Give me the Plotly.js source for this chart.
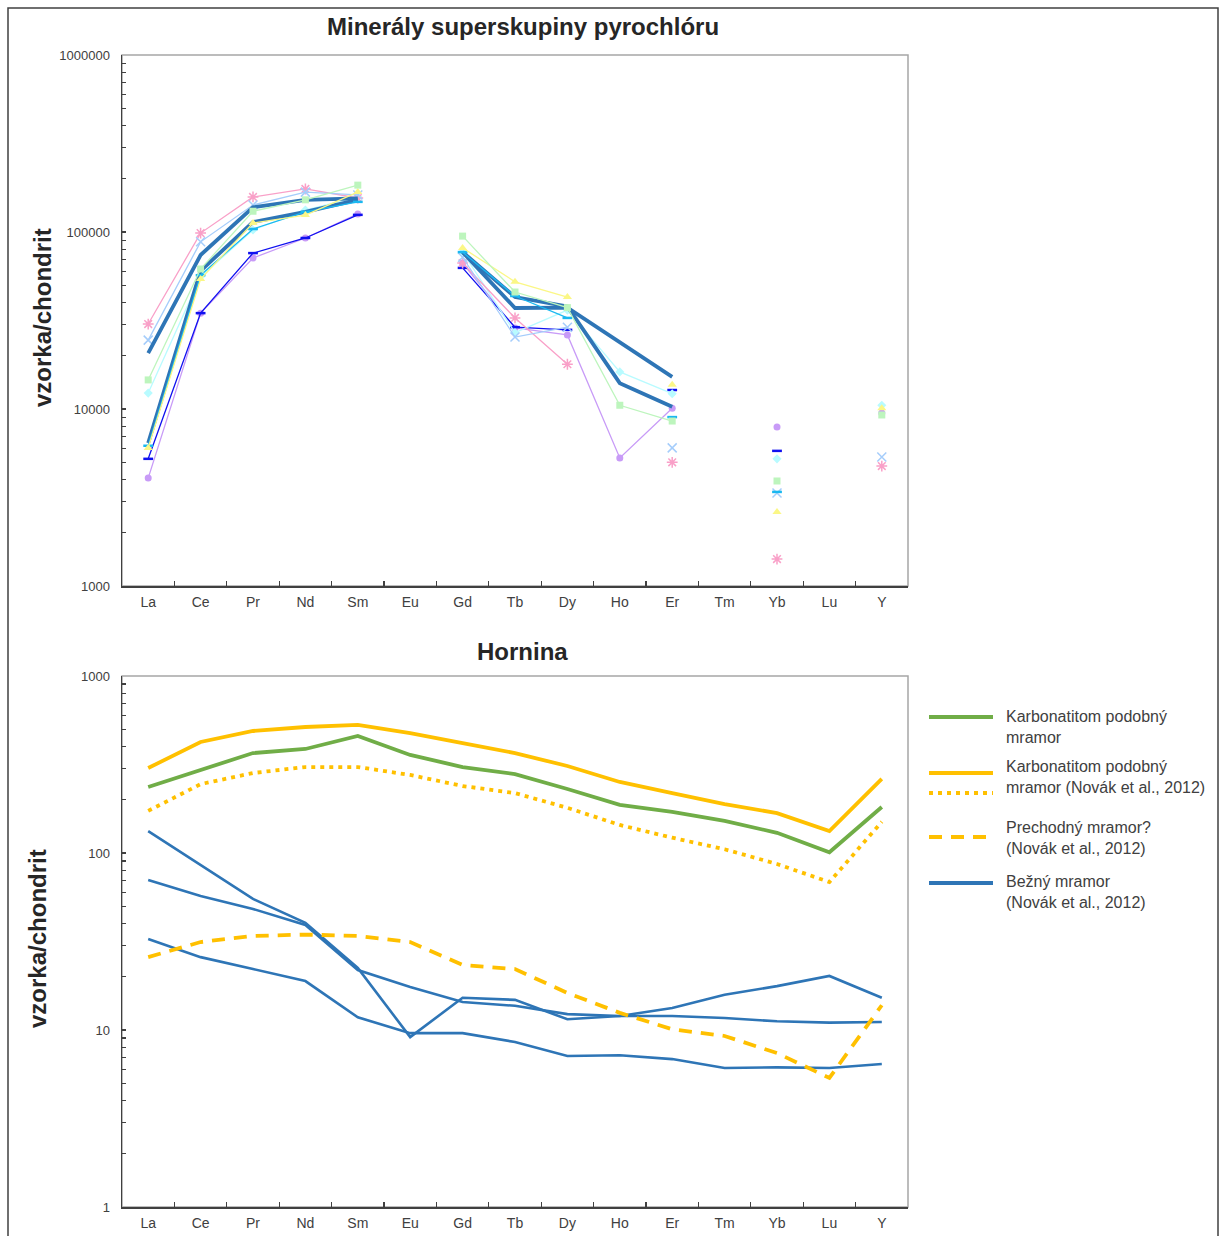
<!DOCTYPE html>
<html>
<head>
<meta charset="utf-8">
<script src="https://cdn.plot.ly/plotly-3.0.1.min.js"></script>
<style>
  html, body { margin: 0; padding: 0; background: #ffffff; }
  #chart { width: 1224px; height: 1236px; }
</style>
</head>
<body>
<div id="chart"></div>
<script>
// ---------- Data ----------
const categories = ["La","Ce","Pr","Nd","Sm","Eu","Gd","Tb","Dy","Ho","Er","Tm","Yb","Lu","Y"];

// Top chart: pyrochlore supergroup minerals (sample / chondrite)
const pinkStar   = [30200, 98600, 157800, 175000, 155600, null, 66800, 32700, 17900, null, 5000, null, 1420, null, 4760];
const lightBlueX = [24500, 88000, 142000, 168000, 162000, null, 72000, 25500, 29000, null, 6030, null, 3350, null, 5360];
const yellowTri  = [6030, 54200, 112500, 124700, 168000, null, 81300, 52300, 42900, null, 13700, null, 2620, null, 10100];
const greenSq    = [14600, 61800, 131000, 152000, 184000, null, 94800, 45800, 37400, 10500, 8550, null, 3920, null, 9250];
const paleCyan   = [12300, 55900, 102600, 133000, 158000, null, 77000, 27000, 36200, 16200, 12200, null, 5230, null, 10500];
const blueDash   = [5230, 34800, 76000, 92500, 125000, null, 62700, 29000, 28000, null, 12800, null, 5800, null, null];
const purpleCirc = [4070, 34800, 71300, 92500, 126500, null, 66800, 28700, 26200, 5290, 10100, null, 7900, null, 9480];
const skyBlue    = [6200, 57000, 104000, 130000, 148000, null, 77000, 43500, 32700, null, 9000, null, 3400, null, null];
const thickA     = [20700, 74100, 138000, 152000, 155000, null, 77000, 37200, 37400, 23900, 15200, null, null, null, null];
const thickB     = [6430, 60300, 113700, 130000, 152000, null, 77000, 42900, 38000, 14000, 10300, null, null, null, null];

// Bottom chart: rock (sample / chondrite)
const karbonatit       = [236, 294, 367, 387, 458, 358, 306, 279, 230, 187, 171, 152, 130, 101, 182];
const karbonatitNovak  = [302, 424, 489, 515, 529, 476, 418, 367, 310, 252, 218, 189, 168, 133, 262];
const karbonatitNovak2 = [173, 245, 283, 306, 306, 276, 239, 218, 180, 144, 122, 105, 86.7, 68.5, 150];
const prechodny        = [25.8, 31.4, 34.0, 34.6, 34.0, 31.4, 23.3, 22.1, 16.2, 12.5, 10.1, 9.25, 7.41, 5.36, 13.8];
const bezny1           = [133, 85.5, 55, 40.3, 22.4, 9.12, 15.2, 14.8, 11.5, 12.0, 13.3, 15.8, 17.7, 20.2, 15.2];
const bezny2           = [70.3, 57.1, 48.3, 39.2, 21.8, 17.5, 14.4, 13.7, 12.3, 12.0, 12.0, 11.7, 11.2, 11.0, 11.1];
const bezny3           = [32.7, 25.8, 22.1, 18.9, 11.8, 9.6, 9.6, 8.55, 7.13, 7.2, 6.85, 6.10, 6.15, 6.10, 6.43];

const titleTop = "Minerály superskupiny pyrochlóru";
const titleBottom = "Hornina";
const yTitle = "vzorka/chondrit";
const legendLabels = [
  "Karbonatitom podobný<br>mramor",
  "Karbonatitom podobný<br>mramor (Novák et al., 2012)",
  "Prechodný mramor?<br>(Novák et al., 2012)",
  "Bežný mramor<br>(Novák et al., 2012)"
];

// ---------- Helpers ----------
const W = 1224, H = 1236;
const px = v => v / W;
const py = v => 1 - v / H;

function topTrace(y, color, symbol, msize, lw, mlw) {
  const t = {
    x: categories, y: y, xaxis: 'x', yaxis: 'y', type: 'scatter',
    mode: symbol ? 'lines+markers' : 'lines',
    connectgaps: false, showlegend: false, hoverinfo: 'skip',
    line: { color: color, width: lw }
  };
  if (symbol) t.marker = { symbol: symbol, size: msize, color: color, line: { color: color, width: mlw || 0 } };
  return t;
}
function botTrace(y, color, dash, lw) {
  return {
    x: categories, y: y, xaxis: 'x2', yaxis: 'y2', type: 'scatter', mode: 'lines',
    connectgaps: false, showlegend: false, hoverinfo: 'skip',
    line: { color: color, width: lw, dash: dash }
  };
}

const traces = [
  topTrace(purpleCirc, '#c89bf7', 'circle', 7, 1.3),
  topTrace(blueDash, '#1010f0', 'line-ew-open', 7, 1.3, 2.5),
  topTrace(paleCyan, '#b8fbff', 'diamond', 7, 1.3),
  topTrace(pinkStar, '#f9a0c8', 'asterisk-open', 9, 1.3, 1.5),
  topTrace(lightBlueX, '#a5cdfb', 'x-thin-open', 9, 1.3, 1.5),
  topTrace(thickB, '#2e75b6', null, 0, 3.8),
  topTrace(thickA, '#2e75b6', null, 0, 3.8),
  topTrace(skyBlue, '#1ab8f0', 'line-ew-open', 7, 1.3, 2.5),
  topTrace(yellowTri, '#fbf786', 'triangle-up', 8, 1.3),
  topTrace(greenSq, '#bdf5bd', 'square', 7, 1.3),

  botTrace(bezny3, '#2e75b6', 'solid', 2.6),
  botTrace(bezny2, '#2e75b6', 'solid', 2.6),
  botTrace(bezny1, '#2e75b6', 'solid', 2.6),
  botTrace(prechodny, '#ffc000', '13px,9px', 3.8),
  botTrace(karbonatitNovak2, '#ffc000', '4px,5px', 3.8),
  botTrace(karbonatitNovak, '#ffc000', 'solid', 3.8),
  botTrace(karbonatit, '#70ad47', 'solid', 3.8)
];

// log ticks: labels only at decades
function logTicks(lo, hi) {
  const vals = [], text = [];
  for (let e = lo; e <= hi; e++) {
    const base = Math.pow(10, e);
    vals.push(base); text.push(String(base));
    if (e < hi) for (let m = 2; m <= 9; m++) { vals.push(m * base); text.push(''); }
  }
  return { vals, text };
}
const tTop = logTicks(3, 6);
const tBot = logTicks(0, 3);

const axisLine = '#404040';
const yTickFont = { family: 'Liberation Sans, Arial, sans-serif', size: 13, color: '#404040' };
const xTickFont = { family: 'Liberation Sans, Arial, sans-serif', size: 14, color: '#404040' };

function xAxis(anchor) {
  return {
    domain: [px(122), px(908)], anchor: anchor, type: 'category',
    categoryorder: 'array', categoryarray: categories, range: [-0.5, 14.5],
    ticks: 'inside', tickson: 'boundaries', ticklen: 5, tickwidth: 1.2, tickcolor: axisLine,
    showline: true, linecolor: axisLine, linewidth: 1.5,
    showgrid: false, zeroline: false, tickfont: xTickFont, ticklabelstandoff: 3, fixedrange: true
  };
}
function yAxis(anchor, dom, range, t) {
  return {
    domain: dom, anchor: anchor, type: 'log', range: range,
    tickmode: 'array', tickvals: t.vals, ticktext: t.text,
    ticks: 'inside', ticklen: 4, tickwidth: 1.2, tickcolor: axisLine,
    showline: true, linecolor: axisLine, linewidth: 1.5,
    showgrid: false, zeroline: false, tickfont: yTickFont, ticklabelstandoff: 8, fixedrange: true
  };
}

const titleFont = { family: 'Liberation Sans, Arial, sans-serif', size: 24, color: '#262626' };
const legFont = { family: 'Liberation Sans, Arial, sans-serif', size: 16, color: '#404040' };

const annotations = [
  { text: '<b>' + titleTop + '</b>', xref: 'paper', yref: 'paper', x: px(523), y: py(27), showarrow: false, xanchor: 'center', yanchor: 'middle', font: titleFont },
  { text: '<b>' + titleBottom + '</b>', xref: 'paper', yref: 'paper', x: px(522), y: py(651), showarrow: false, xanchor: 'center', yanchor: 'middle', font: titleFont },
  { text: '<b>' + yTitle + '</b>', xref: 'paper', yref: 'paper', x: px(42), y: py(318), showarrow: false, textangle: -90, xanchor: 'center', yanchor: 'middle', font: titleFont },
  { text: '<b>' + yTitle + '</b>', xref: 'paper', yref: 'paper', x: px(37), y: py(939), showarrow: false, textangle: -90, xanchor: 'center', yanchor: 'middle', font: titleFont }
];

// manual legend
const legRows = [
  { label: legendLabels[0], textY: 727, lines: [{ y: 717, color: '#70ad47', dash: 'solid' }] },
  { label: legendLabels[1], textY: 777, lines: [{ y: 773, color: '#ffc000', dash: 'solid' }, { y: 793, color: '#ffc000', dash: '4px,5px' }] },
  { label: legendLabels[2], textY: 838, lines: [{ y: 837, color: '#ffc000', dash: '13px,9px' }] },
  { label: legendLabels[3], textY: 892, lines: [{ y: 883, color: '#2e75b6', dash: 'solid' }] }
];
const shapes = [
  { type: 'rect', xref: 'paper', yref: 'paper', x0: px(8), x1: px(1218), y0: py(8), y1: py(1250), line: { color: '#404040', width: 1.5 }, fillcolor: 'rgba(0,0,0,0)' },
  { type: 'rect', xref: 'x domain', yref: 'y domain', x0: 0, x1: 1, y0: 0, y1: 1, line: { color: '#a6a6a6', width: 1.5 }, layer: 'below' },
  { type: 'rect', xref: 'x2 domain', yref: 'y2 domain', x0: 0, x1: 1, y0: 0, y1: 1, line: { color: '#a6a6a6', width: 1.5 }, layer: 'below' }
];
legRows.forEach(r => {
  r.lines.forEach(l => shapes.push({ type: 'line', xref: 'paper', yref: 'paper', x0: px(929), x1: px(993), y0: py(l.y), y1: py(l.y), line: { color: l.color, width: 3.8, dash: l.dash } }));
  annotations.push({ text: r.label, xref: 'paper', yref: 'paper', x: px(1004), y: py(r.textY), showarrow: false, xanchor: 'left', yanchor: 'middle', align: 'left', font: legFont });
});

const layout = {
  width: W, height: H, autosize: false,
  margin: { l: 0, r: 0, t: 0, b: 0, pad: 0 },
  paper_bgcolor: '#ffffff', plot_bgcolor: '#ffffff',
  font: { family: 'Liberation Sans, Arial, sans-serif', color: '#404040' },
  showlegend: false,
  xaxis: xAxis('y'),
  yaxis: yAxis('x', [py(586), py(55)], [3, 6], tTop),
  xaxis2: xAxis('y2'),
  yaxis2: yAxis('x2', [py(1207), py(676)], [0, 3], tBot),
  shapes: shapes,
  annotations: annotations
};

Plotly.newPlot('chart', traces, layout, { staticPlot: true, displayModeBar: false });
</script>
</body>
</html>
